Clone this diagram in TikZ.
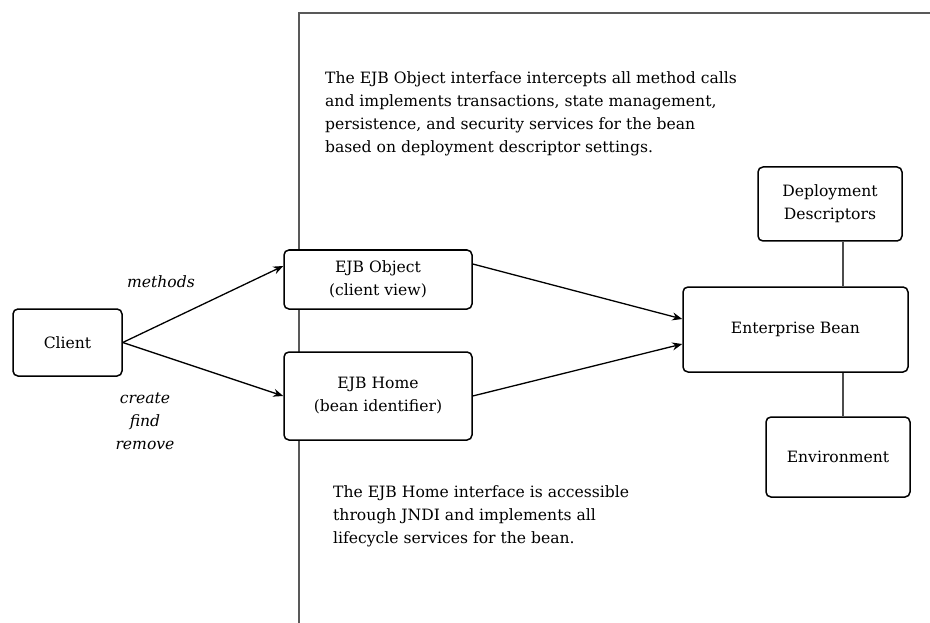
\documentclass[tikz,border=0pt]{standalone}
\usepackage{fontspec}
\setmainfont{DejaVu Serif}
\usetikzlibrary{arrows.meta,calc}
\begin{document}
\begin{tikzpicture}[x=1pt,y=-1pt,
  box/.style={draw=black, line width=1.5pt, rounded corners=5pt, fill=white,
    align=center, inner sep=0pt, font=\fontsize{15.6}{23}\selectfont},
  flow/.style={line width=1.3pt, -{Stealth[length=10pt,width=8pt]}},
  tie/.style={line width=1.4pt, draw=black!70},
  frame/.style={line width=1.5pt, draw=black!65},
  body/.style={inner sep=0pt, align=left, font=\fontsize{15.6}{23}\selectfont},
  call/.style={inner sep=0pt, align=center, font=\fontsize{15.6}{23}\selectfont\itshape}]
\useasboundingbox (0,0) rectangle (930,623);

% container boundary (left and top edges)
\coordinate (fright) at (930,13);
\coordinate (ftop) at (299,13);
\coordinate (fbot) at (299,623);
\draw[frame] (fright) -- (ftop) -- (fbot);

% components
\node[box, minimum width=109pt, minimum height=67pt] (client) at (67.5,342.5) {Client};
\node[box, minimum width=188pt, minimum height=59pt] (obj) at (378,279.5) {EJB Object\\(client view)};
\node[box, minimum width=188pt, minimum height=88pt] (home) at (378,396) {EJB Home\\(bean identifier)};
\node[box, minimum width=225pt, minimum height=85pt] (bean) at (795.5,329.5) {Enterprise Bean};
\node[box, minimum width=144pt, minimum height=74pt] (dd) at (830,204) {Deployment\\Descriptors};
\node[box, minimum width=144pt, minimum height=80pt] (env) at (838,457) {Environment};

% calls
\draw[flow] (client.east) -- ([yshift=13.5pt]obj.west);
\draw[flow] (client.east) -- (home.west);
\draw[flow] ([yshift=15.5pt]obj.east) -- ([yshift=10.5pt]bean.west);
\draw[flow] (home.east) -- ([yshift=-14.5pt]bean.west);

% bean attachments
\coordinate (link) at (843,0);
\draw[tie] (dd.south -| link) -- (bean.north -| link);
\draw[tie] (bean.south -| link) -- (env.north -| link);

% labels
\node[call] (lblm) at (161,282) {methods};
\node[call] (lblc) at (145,421) {create\\find\\remove};
\node[body, anchor=north west] (noteobj) at (325,71) {The EJB Object interface intercepts all method calls\\and implements transactions, state management,\\persistence, and security services for the bean\\based on deployment descriptor settings.};
\node[body, anchor=north west] (notehome) at (333,485) {The EJB Home interface is accessible\\through JNDI and implements all\\lifecycle services for the bean.};
\end{tikzpicture}
\end{document}
